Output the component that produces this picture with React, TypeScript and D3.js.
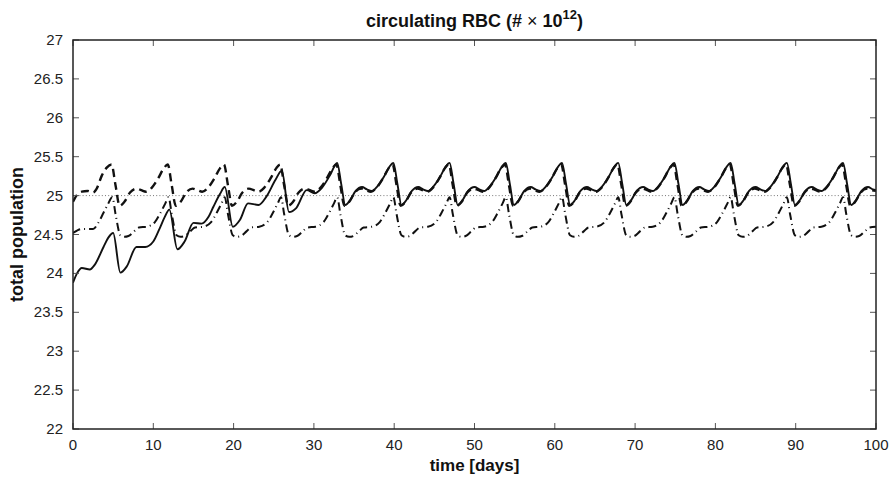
import React from 'react'
import * as d3 from 'd3'

// time (days), total population (# x 10^12)
const solidSeries: [number, number][] = [
  [0, 23.88], [0.5, 24.0], [1.1, 24.07], [2.1, 24.05], [2.7, 24.11], [3.8, 24.34], [4.4, 24.46], [5.0, 24.52],
  [5.9, 24.01], [6.7, 24.09], [7.9, 24.34], [9.0, 24.34], [10.0, 24.41], [10.8, 24.58], [11.4, 24.72], [12.0, 24.82],
  [13.0, 24.31], [13.9, 24.41], [15.0, 24.65], [16.0, 24.64], [16.9, 24.73], [17.5, 24.86], [18.3, 25.02], [18.9, 25.11],
  [19.9, 24.6], [20.8, 24.69], [21.8, 24.9], [23.1, 24.88], [24.1, 24.99], [25.2, 25.2], [26.0, 25.32],
  [26.9, 24.79], [27.8, 24.84], [29.1, 25.07], [30.1, 25.03], [31.0, 25.1], [32.0, 25.26],
  [32.9, 25.42], [33.4, 25.15], [33.9, 24.88], [34.5, 24.94], [35.2, 25.06], [36.0, 25.11], [36.6, 25.08], [37.2, 25.06], [37.9, 25.12], [38.7, 25.24], [39.4, 25.37],
  [39.9, 25.42], [40.4, 25.15], [40.9, 24.88], [41.5, 24.94], [42.2, 25.06], [43.0, 25.11], [43.6, 25.08], [44.2, 25.06], [44.9, 25.12], [45.7, 25.24], [46.4, 25.37],
  [46.9, 25.42], [47.4, 25.15], [47.9, 24.88], [48.5, 24.94], [49.2, 25.06], [50.0, 25.11], [50.6, 25.08], [51.2, 25.06], [51.9, 25.12], [52.7, 25.24], [53.4, 25.37],
  [53.9, 25.42], [54.4, 25.15], [54.9, 24.88], [55.5, 24.94], [56.2, 25.06], [57.0, 25.11], [57.6, 25.08], [58.2, 25.06], [58.9, 25.12], [59.7, 25.24], [60.4, 25.37],
  [60.9, 25.42], [61.4, 25.15], [61.9, 24.88], [62.5, 24.94], [63.2, 25.06], [64.0, 25.11], [64.6, 25.08], [65.2, 25.06], [65.9, 25.12], [66.7, 25.24], [67.4, 25.37],
  [67.9, 25.42], [68.4, 25.15], [68.9, 24.88], [69.5, 24.94], [70.2, 25.06], [71.0, 25.11], [71.6, 25.08], [72.2, 25.06], [72.9, 25.12], [73.7, 25.24], [74.4, 25.37],
  [74.9, 25.42], [75.4, 25.15], [75.9, 24.88], [76.5, 24.94], [77.2, 25.06], [78.0, 25.11], [78.6, 25.08], [79.2, 25.06], [79.9, 25.12], [80.7, 25.24], [81.4, 25.37],
  [81.9, 25.42], [82.4, 25.15], [82.9, 24.88], [83.5, 24.94], [84.2, 25.06], [85.0, 25.11], [85.6, 25.08], [86.2, 25.06], [86.9, 25.12], [87.7, 25.24], [88.4, 25.37],
  [88.9, 25.42], [89.4, 25.15], [89.9, 24.88], [90.5, 24.94], [91.2, 25.06], [92.0, 25.11], [92.6, 25.08], [93.2, 25.06], [93.9, 25.12], [94.7, 25.24], [95.4, 25.37],
  [95.9, 25.42], [96.4, 25.15], [96.9, 24.88], [97.5, 24.94], [98.2, 25.06], [99.0, 25.11], [99.6, 25.08], [100, 25.07],
]

const dashedSeries: [number, number][] = [
  [0, 24.92], [0.5, 25.01], [1.1, 25.05], [1.8, 25.06], [2.5, 25.04], [3.0, 25.1], [3.6, 25.26], [4.2, 25.36],
  [4.8, 25.4], [5.3, 25.13], [5.8, 24.87], [6.4, 24.92], [7.1, 25.04], [7.9, 25.09], [8.5, 25.07], [9.1, 25.05], [9.8, 25.1], [10.6, 25.22], [11.3, 25.35],
  [11.8, 25.4], [12.3, 25.13], [12.8, 24.87], [13.4, 24.92], [14.1, 25.04], [14.9, 25.09], [15.5, 25.07], [16.1, 25.05], [16.8, 25.1], [17.6, 25.22], [18.3, 25.35],
  [18.8, 25.4], [19.3, 25.13], [19.8, 24.87], [20.4, 24.92], [21.1, 25.04], [21.9, 25.09], [22.5, 25.07], [23.1, 25.05], [23.8, 25.1], [24.6, 25.22], [25.3, 25.35],
  [25.8, 25.4], [26.3, 25.13], [26.8, 24.87], [27.4, 24.92], [28.1, 25.04], [28.9, 25.09], [29.5, 25.07], [30.1, 25.05], [30.8, 25.1], [31.6, 25.22], [32.3, 25.35],
  [32.8, 25.4], [33.3, 25.13], [33.8, 24.87], [34.4, 24.92], [35.1, 25.04], [35.9, 25.09], [36.5, 25.07], [37.1, 25.05], [37.8, 25.1], [38.6, 25.22], [39.3, 25.35],
  [39.8, 25.4], [40.3, 25.13], [40.8, 24.87], [41.4, 24.92], [42.1, 25.04], [42.9, 25.09], [43.5, 25.07], [44.1, 25.05], [44.8, 25.1], [45.6, 25.22], [46.3, 25.35],
  [46.8, 25.4], [47.3, 25.13], [47.8, 24.87], [48.4, 24.92], [49.1, 25.04], [49.9, 25.09], [50.5, 25.07], [51.1, 25.05], [51.8, 25.1], [52.6, 25.22], [53.3, 25.35],
  [53.8, 25.4], [54.3, 25.13], [54.8, 24.87], [55.4, 24.92], [56.1, 25.04], [56.9, 25.09], [57.5, 25.07], [58.1, 25.05], [58.8, 25.1], [59.6, 25.22], [60.3, 25.35],
  [60.8, 25.4], [61.3, 25.13], [61.8, 24.87], [62.4, 24.92], [63.1, 25.04], [63.9, 25.09], [64.5, 25.07], [65.1, 25.05], [65.8, 25.1], [66.6, 25.22], [67.3, 25.35],
  [67.8, 25.4], [68.3, 25.13], [68.8, 24.87], [69.4, 24.92], [70.1, 25.04], [70.9, 25.09], [71.5, 25.07], [72.1, 25.05], [72.8, 25.1], [73.6, 25.22], [74.3, 25.35],
  [74.8, 25.4], [75.3, 25.13], [75.8, 24.87], [76.4, 24.92], [77.1, 25.04], [77.9, 25.09], [78.5, 25.07], [79.1, 25.05], [79.8, 25.1], [80.6, 25.22], [81.3, 25.35],
  [81.8, 25.4], [82.3, 25.13], [82.8, 24.87], [83.4, 24.92], [84.1, 25.04], [84.9, 25.09], [85.5, 25.07], [86.1, 25.05], [86.8, 25.1], [87.6, 25.22], [88.3, 25.35],
  [88.8, 25.4], [89.3, 25.13], [89.8, 24.87], [90.4, 24.92], [91.1, 25.04], [91.9, 25.09], [92.5, 25.07], [93.1, 25.05], [93.8, 25.1], [94.6, 25.22], [95.3, 25.35],
  [95.8, 25.4], [96.3, 25.13], [96.8, 24.87], [97.4, 24.92], [98.1, 25.04], [98.9, 25.09], [99.5, 25.07], [100, 25.06],
]

const dashDotSeries: [number, number][] = [
  [0, 24.52], [0.5, 24.55], [1.0, 24.57], [2.5, 24.57], [3.2, 24.66], [3.8, 24.78], [4.3, 24.88],
  [4.9, 24.98], [5.3, 24.76], [5.9, 24.49], [6.4, 24.47], [6.9, 24.48], [7.6, 24.54], [8.2, 24.59], [9.2, 24.6], [10.2, 24.66], [10.9, 24.78], [11.5, 24.9],
  [11.9, 24.98], [12.3, 24.76], [12.9, 24.49], [13.4, 24.47], [13.9, 24.48], [14.6, 24.54], [15.2, 24.59], [16.2, 24.6], [17.2, 24.66], [17.9, 24.78], [18.5, 24.9],
  [18.9, 24.98], [19.3, 24.76], [19.9, 24.49], [20.4, 24.47], [20.9, 24.48], [21.6, 24.54], [22.2, 24.59], [23.2, 24.6], [24.2, 24.66], [24.9, 24.78], [25.5, 24.9],
  [25.9, 24.98], [26.3, 24.76], [26.9, 24.49], [27.4, 24.47], [27.9, 24.48], [28.6, 24.54], [29.2, 24.59], [30.2, 24.6], [31.2, 24.66], [31.9, 24.78], [32.5, 24.9],
  [32.9, 24.98], [33.3, 24.76], [33.9, 24.49], [34.4, 24.47], [34.9, 24.48], [35.6, 24.54], [36.2, 24.59], [37.2, 24.6], [38.2, 24.66], [38.9, 24.78], [39.5, 24.9],
  [39.9, 24.98], [40.3, 24.76], [40.9, 24.49], [41.4, 24.47], [41.9, 24.48], [42.6, 24.54], [43.2, 24.59], [44.2, 24.6], [45.2, 24.66], [45.9, 24.78], [46.5, 24.9],
  [46.9, 24.98], [47.3, 24.76], [47.9, 24.49], [48.4, 24.47], [48.9, 24.48], [49.6, 24.54], [50.2, 24.59], [51.2, 24.6], [52.2, 24.66], [52.9, 24.78], [53.5, 24.9],
  [53.9, 24.98], [54.3, 24.76], [54.9, 24.49], [55.4, 24.47], [55.9, 24.48], [56.6, 24.54], [57.2, 24.59], [58.2, 24.6], [59.2, 24.66], [59.9, 24.78], [60.5, 24.9],
  [60.9, 24.98], [61.3, 24.76], [61.9, 24.49], [62.4, 24.47], [62.9, 24.48], [63.6, 24.54], [64.2, 24.59], [65.2, 24.6], [66.2, 24.66], [66.9, 24.78], [67.5, 24.9],
  [67.9, 24.98], [68.3, 24.76], [68.9, 24.49], [69.4, 24.47], [69.9, 24.48], [70.6, 24.54], [71.2, 24.59], [72.2, 24.6], [73.2, 24.66], [73.9, 24.78], [74.5, 24.9],
  [74.9, 24.98], [75.3, 24.76], [75.9, 24.49], [76.4, 24.47], [76.9, 24.48], [77.6, 24.54], [78.2, 24.59], [79.2, 24.6], [80.2, 24.66], [80.9, 24.78], [81.5, 24.9],
  [81.9, 24.98], [82.3, 24.76], [82.9, 24.49], [83.4, 24.47], [83.9, 24.48], [84.6, 24.54], [85.2, 24.59], [86.2, 24.6], [87.2, 24.66], [87.9, 24.78], [88.5, 24.9],
  [88.9, 24.98], [89.3, 24.76], [89.9, 24.49], [90.4, 24.47], [90.9, 24.48], [91.6, 24.54], [92.2, 24.59], [93.2, 24.6], [94.2, 24.66], [94.9, 24.78], [95.5, 24.9],
  [95.9, 24.98], [96.3, 24.76], [96.9, 24.49], [97.4, 24.47], [97.9, 24.48], [98.6, 24.54], [99.2, 24.59], [100, 24.6],
]

const referenceLevel = 25
const xTicks = [0, 10, 20, 30, 40, 50, 60, 70, 80, 90, 100]
const yTicks = [22, 22.5, 23, 23.5, 24, 24.5, 25, 25.5, 26, 26.5, 27]

const W = 893
const H = 484
const left = 73, right = 876, top = 40, bottom = 429
const font = '"Liberation Sans", Arial, Helvetica, sans-serif'

const App = () => {
  const x = d3.scaleLinear().domain([0, 100]).range([left, right])
  const y = d3.scaleLinear().domain([22, 27]).range([bottom, top])

  const line = d3.line<[number, number]>()
    .x(d => x(d[0]))
    .y(d => y(d[1]))
    .curve(d3.curveMonotoneX)

  const tickLen = 6

  return (
    <svg width={W} height={H} style={{ position: 'absolute', left: 0, top: 0, background: '#fff' }}>
      <defs>
        <clipPath id="plotArea">
          <rect x={left} y={top} width={right - left} height={bottom - top} />
        </clipPath>
      </defs>

      {/* reference level */}
      <line x1={x(0)} x2={x(100)} y1={y(referenceLevel)} y2={y(referenceLevel)}
        stroke="#777" strokeWidth={1} strokeDasharray="1,2.2" />

      <g clipPath="url(#plotArea)" fill="none" strokeLinejoin="round">
        <path d={line(dashDotSeries) || ''} stroke="#111" strokeWidth={2} strokeDasharray="8,4,1,4" />
        <path d={line(dashedSeries) || ''} stroke="#111" strokeWidth={2.4} strokeDasharray="8,5" />
        <path d={line(solidSeries) || ''} stroke="#111" strokeWidth={1.9} />
      </g>

      {/* ticks on all four sides */}
      <g stroke="#555" strokeWidth={1}>
        {xTicks.map(t => (
          <g key={'xt' + t}>
            <line x1={x(t)} x2={x(t)} y1={bottom} y2={bottom - tickLen} />
            <line x1={x(t)} x2={x(t)} y1={top} y2={top + tickLen} />
          </g>
        ))}
        {yTicks.map(t => (
          <g key={'yt' + t}>
            <line x1={left} x2={left + tickLen} y1={y(t)} y2={y(t)} />
            <line x1={right} x2={right - tickLen} y1={y(t)} y2={y(t)} />
          </g>
        ))}
      </g>

      <rect x={left} y={top} width={right - left} height={bottom - top}
        fill="none" stroke="#222" strokeWidth={1.5} />

      <g fontFamily={font} fontSize={15} fill="#222">
        {xTicks.map(t => (
          <text key={'xl' + t} x={x(t)} y={bottom + 21} textAnchor="middle">{t}</text>
        ))}
        {yTicks.map(t => (
          <text key={'yl' + t} x={left - 10} y={y(t) + 5} textAnchor="end">{t}</text>
        ))}
      </g>

      <g fontFamily={font} fontWeight="bold" fill="#111">
        <text x={(left + right) / 2} y={471} fontSize={17} textAnchor="middle">time [days]</text>
        <text transform={`translate(23, ${(top + bottom) / 2}) rotate(-90)`} fontSize={18} textAnchor="middle">total population</text>
        <text x={(left + right) / 2} y={27} fontSize={18} textAnchor="middle">
          circulating RBC (# <tspan fontWeight="normal">×</tspan> 10<tspan fontSize={13} dy={-8}>12</tspan><tspan dy={8}>)</tspan>
        </text>
      </g>
    </svg>
  )
}

export default App
